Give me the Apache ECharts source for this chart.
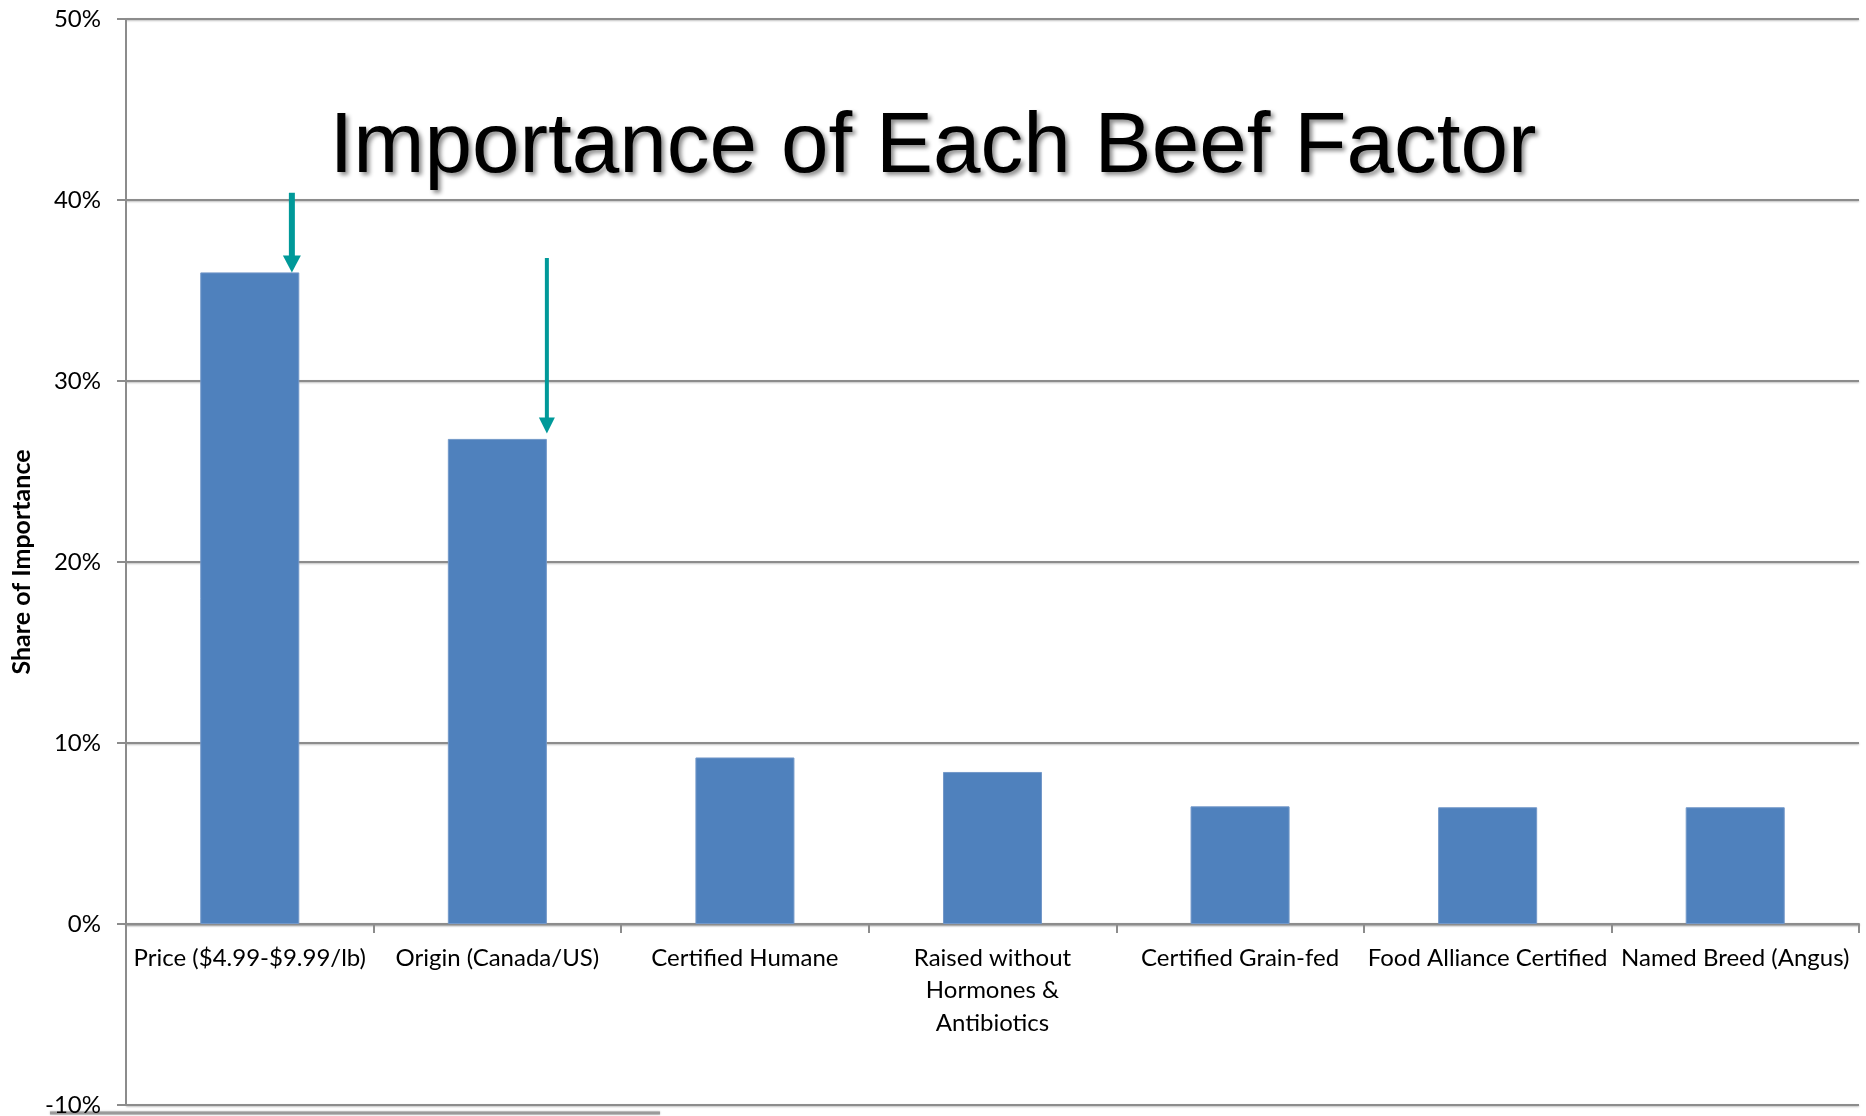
<!DOCTYPE html>
<html><head><meta charset="utf-8">
<script src="https://cdn.jsdelivr.net/npm/echarts@6/dist/echarts.min.js"></script>
<style>html,body{margin:0;padding:0;background:#fff}#c{width:1866px;height:1116px}</style>
</head><body><div id="c"></div>
<script>
// ---- data ----
const categories = ['Price ($4.99-$9.99/lb)', 'Origin (Canada/US)', 'Certified Humane',
  'Raised without\nHormones &\nAntibiotics', 'Certified Grain-fed', 'Food Alliance Certified', 'Named Breed (Angus)'];
const shareOfImportance = [36.0, 26.8, 9.2, 8.4, 6.5, 6.45, 6.45];
const yMin = -10, yMax = 50, yInterval = 10;
// annotation arrows (x in category units on a 0..7 scale, values in %)
const arrowX = [0.67, 1.70];
const arrowFrom = [40.4, 36.8];
const arrowTo = [36.0, 27.1];

// ---- styles / layout ----
const arrowShaft = [6, 4];
const arrowHead = [[18, 17], [16, 16]];
const gray = '#8c8c8c';
const lineStyle = {color: gray, width: 2, shadowColor: 'rgba(0,0,0,0.25)', shadowBlur: 2, shadowOffsetY: 1};
const font = 'Lato';
const gridTop = 19, gridBottom = 11, H = 1116;

const arrowData = arrowX.map((x, i) => [x, arrowFrom[i], arrowTo[i], i]);
// pixel distance from grid bottom (yMin) to the zero line, used to lift the category axis onto 0
const plotH = H - gridTop - gridBottom;
const zeroLift = plotH * (0 - yMin) / (yMax - yMin);

const chart = echarts.init(document.getElementById('c'));
chart.setOption({
  animation: false,
  backgroundColor: '#fff',
  title: {
    text: 'Importance of Each Beef Factor', left: 'center', top: 100,
    textStyle: {fontFamily: 'Liberation Sans', fontSize: 85.5, fontWeight: 'normal', color: '#000',
      textShadowColor: 'rgba(0,0,0,0.45)', textShadowBlur: 4, textShadowOffsetX: 3, textShadowOffsetY: 3}
  },
  grid: {left: 126, right: 7, top: gridTop, bottom: gridBottom, containLabel: false, outerBoundsMode: 'none'},
  xAxis: [{
    type: 'category', data: categories, boundaryGap: true, position: 'bottom', offset: -zeroLift,
    axisLine: {onZero: false, lineStyle: lineStyle},
    axisTick: {show: true, length: 9, alignWithLabel: false, lineStyle: {color: gray, width: 2}},
    axisLabel: {interval: 0, fontFamily: font, fontSize: 24, color: '#000', margin: 18, lineHeight: 32.5, hideOverlap: false},
    splitLine: {show: false}
  }, {
    type: 'value', min: 0, max: 7, show: false
  }],
  yAxis: {
    type: 'value', min: yMin, max: yMax, interval: yInterval,
    name: 'Share of Importance', nameLocation: 'middle', nameGap: 86,
    nameTextStyle: {fontFamily: font, fontWeight: 'bold', fontSize: 25, color: '#000'},
    axisLabel: {formatter: '{value}%', fontFamily: font, fontSize: 24, color: '#000', margin: 25},
    axisLine: {show: true, onZero: false, lineStyle: {color: gray, width: 2}},
    axisTick: {show: true, length: 9, lineStyle: {color: gray, width: 2}},
    splitLine: {show: true, lineStyle: lineStyle}
  },
  series: [{
    type: 'bar', data: shareOfImportance, barWidth: '40%',
    itemStyle: {color: '#4F81BD', borderColor: '#7398c9', borderWidth: 1},
    z: 2
  }, {
    type: 'custom', xAxisIndex: 1, yAxisIndex: 0, data: arrowData, z: 5,
    renderItem: function (params, api) {
      const i = api.value(3);
      const p0 = api.coord([api.value(0), api.value(1)]);
      const p1 = api.coord([api.value(0), api.value(2)]);
      const w = arrowShaft[i], hw = arrowHead[i][0], hh = arrowHead[i][1];
      const col = '#009999';
      return {
        type: 'group', children: [
          {type: 'rect', shape: {x: p0[0] - w / 2, y: p0[1], width: w, height: p1[1] - hh - p0[1] + 1}, style: {fill: col}},
          {type: 'polygon', shape: {points: [[p1[0] - hw / 2, p1[1] - hh], [p1[0] + hw / 2, p1[1] - hh], [p1[0], p1[1]]]}, style: {fill: col}}
        ]
      };
    }
  }],
  graphic: [{
    type: 'line', shape: {x1: 50, y1: 1113, x2: 660, y2: 1113},
    style: {stroke: '#9a9a9a', lineWidth: 3, shadowColor: 'rgba(0,0,0,0.3)', shadowBlur: 2}
  }]
});
</script>
</body></html>
